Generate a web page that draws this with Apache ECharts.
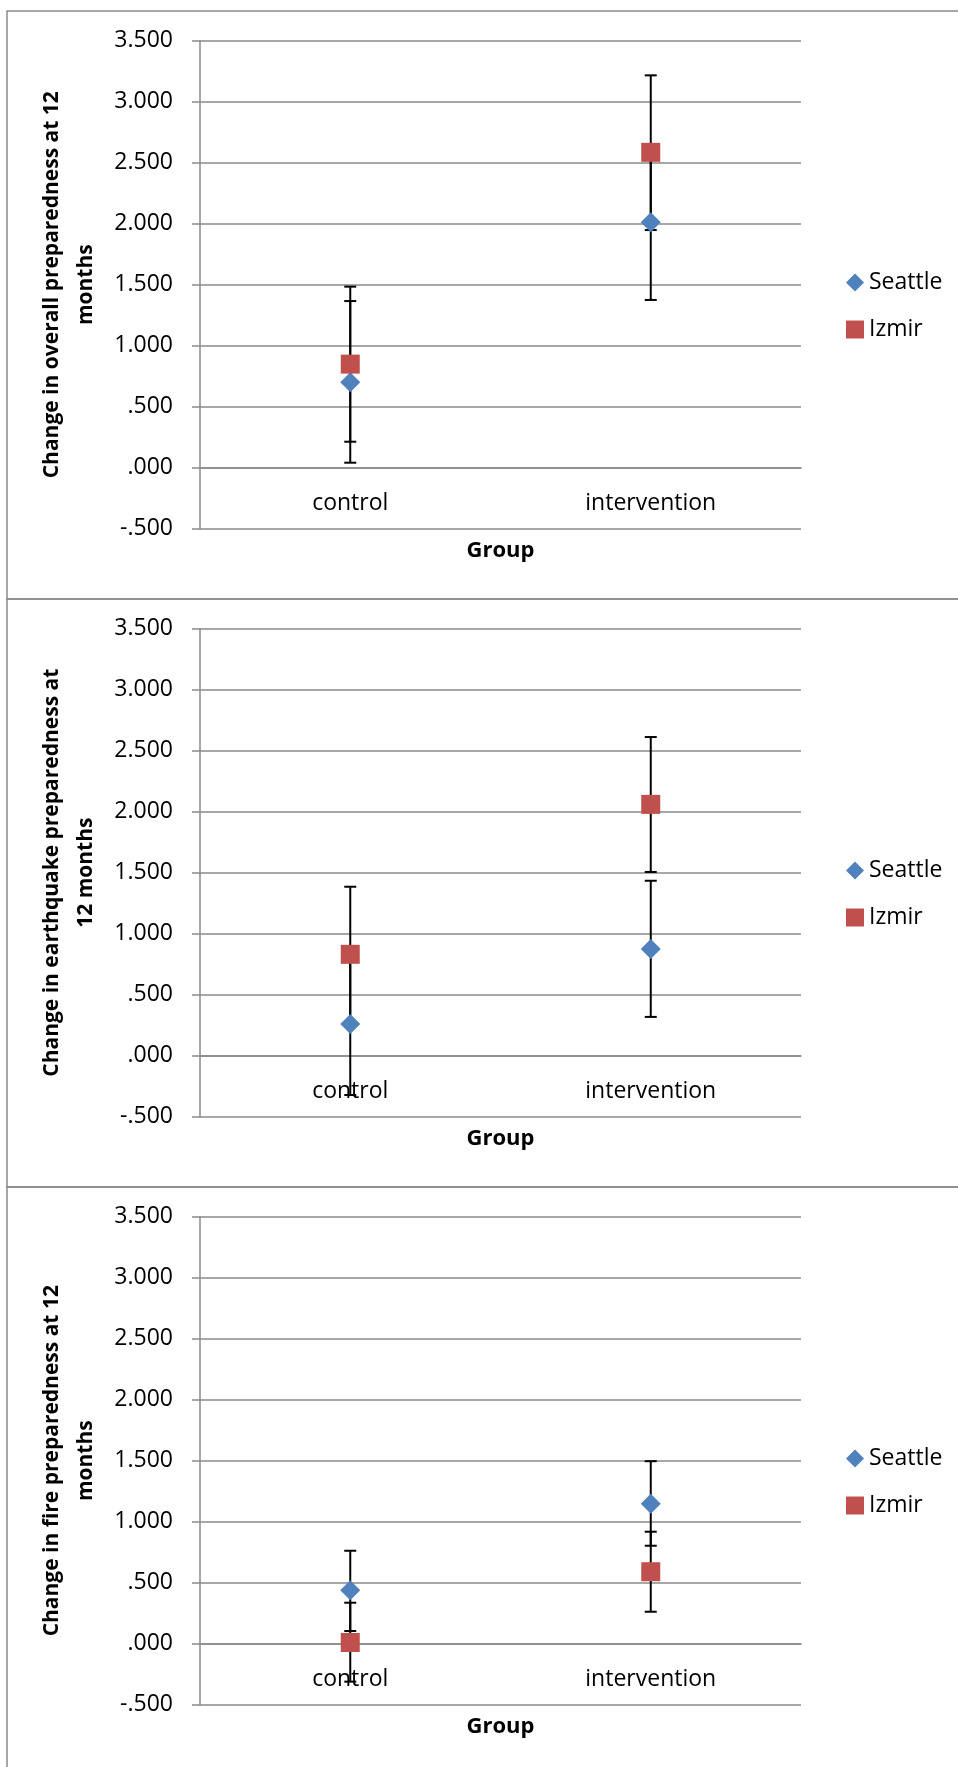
<!DOCTYPE html>
<html>
<head>
<meta charset="utf-8">
<script src="https://cdn.jsdelivr.net/npm/echarts@6/dist/echarts.min.js"></script>
<style>
html,body{margin:0;padding:0;background:#fff;}
#c{width:958px;height:1767px;}
</style>
</head>
<body>
<div id="c"></div>
<script>
// ---- data ----
const categories = ['control', 'intervention'];
const seriesNames = ['Seattle', 'Izmir'];
const yTitles = [
  'Change in overall preparedness at 12\nmonths',
  'Change in earthquake preparedness at\n12 months',
  'Change in fire preparedness at 12\nmonths'
];
const xTitle = 'Group';

// Panel 1: overall
const seattle1 = [0.700, 2.011];
const seattleLow1 = [0.041, 1.375];
const seattleHigh1 = [1.366, 2.647];
const izmir1 = [0.849, 2.585];
const izmirLow1 = [0.213, 1.948];
const izmirHigh1 = [1.484, 3.216];

// Panel 2: earthquake
const seattle2 = [0.260, 0.875];
const seattleLow2 = [-0.322, 0.318];
const seattleHigh2 = [0.842, 1.434];
const izmir2 = [0.831, 2.060];
const izmirLow2 = [0.277, 1.506];
const izmirHigh2 = [1.385, 2.612];

// Panel 3: fire
const seattle3 = [0.438, 1.147];
const seattleLow3 = [0.104, 0.803];
const seattleHigh3 = [0.762, 1.496];
const izmir3 = [0.010, 0.590];
const izmirLow3 = [-0.311, 0.262];
const izmirHigh3 = [0.336, 0.918];

const yMin = -0.5, yMax = 3.5, yStep = 0.5;

// ---- build ----
const panels = [
  {s: seattle1, sl: seattleLow1, sh: seattleHigh1, z: izmir1, zl: izmirLow1, zh: izmirHigh1},
  {s: seattle2, sl: seattleLow2, sh: seattleHigh2, z: izmir2, zl: izmirLow2, zh: izmirHigh2},
  {s: seattle3, sl: seattleLow3, sh: seattleHigh3, z: izmir3, zl: izmirLow3, zh: izmirHigh3}
];
const panelH = 588;
const gridTop0 = 40.7;
const gridH = 488;
const FONT = "'Open Sans', sans-serif";
const blue = '#4F81BD', red = '#C0504D', gridCol = '#8a8a8a';
// category axis sits at value 0: distance from grid bottom
const zeroOffset = -gridH * (0 - yMin) / (yMax - yMin);

function fmt(v) {
  return v.toFixed(3).replace(/^(-?)0\./, '$1.');
}
function errRender(params, api) {
  const x = api.value(0);
  const lo = api.coord([x, api.value(1)]);
  const hi = api.coord([x, api.value(2)]);
  const cw = 6;
  const st = {stroke: '#000', lineWidth: 2};
  return {
    type: 'group',
    children: [
      {type: 'line', shape: {x1: lo[0], y1: lo[1], x2: hi[0], y2: hi[1]}, style: st},
      {type: 'line', shape: {x1: lo[0] - cw, y1: lo[1], x2: lo[0] + cw, y2: lo[1]}, style: st},
      {type: 'line', shape: {x1: hi[0] - cw, y1: hi[1], x2: hi[0] + cw, y2: hi[1]}, style: st}
    ]
  };
}

const grid = [], xAxis = [], yAxis = [], series = [], legend = [], graphic = [];
panels.forEach((p, i) => {
  const off = i * panelH;
  grid.push({left: 200, top: gridTop0 + off, width: 601, height: gridH});
  xAxis.push({
    type: 'category', gridIndex: i, data: categories, boundaryGap: true,
    position: 'bottom', offset: zeroOffset,
    axisLine: {onZero: false, lineStyle: {color: gridCol, width: 1.5}},
    axisTick: {show: false},
    axisLabel: {color: '#000', fontSize: 23, fontFamily: FONT, margin: 24},
    name: xTitle, nameLocation: 'middle', nameGap: 72,
    nameTextStyle: {color: '#000', fontSize: 22, fontWeight: 'bold', fontFamily: FONT}
  });
  yAxis.push({
    type: 'value', gridIndex: i, min: yMin, max: yMax, interval: yStep,
    axisLine: {show: true, onZero: false, lineStyle: {color: gridCol, width: 1.5}},
    axisTick: {show: true, length: 8, lineStyle: {color: gridCol, width: 1.5}},
    splitLine: {show: true, lineStyle: {color: gridCol, width: 1.5}},
    axisLabel: {color: '#000', fontSize: 23, fontFamily: FONT, margin: 27, formatter: fmt},
    name: yTitles[i], nameLocation: 'middle', nameRotate: 90, nameGap: 82,
    nameTextStyle: {color: '#000', fontSize: 21, fontWeight: 'bold', fontFamily: FONT, lineHeight: 34, align: 'center'}
  });
  series.push({
    name: 'Seattle error', type: 'custom', xAxisIndex: i, yAxisIndex: i, z: 2,
    renderItem: errRender, encode: {x: 0, y: [1, 2]},
    data: categories.map((c, k) => [k, p.sl[k], p.sh[k]])
  });
  series.push({
    name: 'Izmir error', type: 'custom', xAxisIndex: i, yAxisIndex: i, z: 2,
    renderItem: errRender, encode: {x: 0, y: [1, 2]},
    data: categories.map((c, k) => [k, p.zl[k], p.zh[k]])
  });
  series.push({
    name: 'Seattle', type: 'scatter', xAxisIndex: i, yAxisIndex: i, z: 3,
    symbol: 'diamond', symbolSize: [20, 20], itemStyle: {color: blue, opacity: 1},
    data: p.s
  });
  series.push({
    name: 'Izmir', type: 'scatter', xAxisIndex: i, yAxisIndex: i, z: 4,
    symbol: 'rect', symbolSize: [19, 19], itemStyle: {color: red, opacity: 1},
    data: p.z
  });
  legend.push({
    data: seriesNames, orient: 'vertical', left: 841, top: 266 + off,
    itemWidth: 18, itemHeight: 18, itemGap: 24,
    selectedMode: false,
    textStyle: {color: '#000', fontSize: 23, fontFamily: FONT}
  });
  graphic.push({
    type: 'rect', silent: true, z: 0,
    shape: {x: 7, y: 11 + off, width: 980, height: i === 2 ? 700 : panelH},
    style: {fill: null, stroke: '#8a8a8a', lineWidth: 1.5}
  });
});

const chart = echarts.init(document.getElementById('c'), null, {renderer: 'canvas'});
chart.setOption({
  animation: false,
  backgroundColor: '#fff',
  grid, xAxis, yAxis, series, legend, graphic
});
</script>
</body>
</html>
